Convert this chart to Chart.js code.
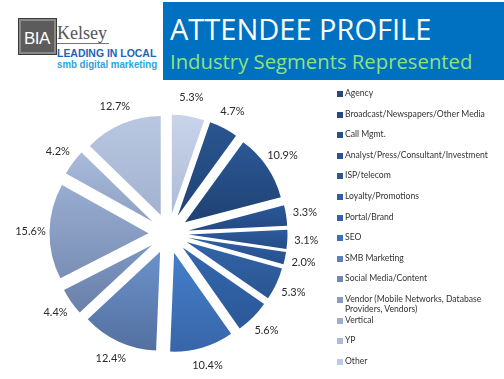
<!DOCTYPE html>
<html>
<head>
<meta charset="utf-8">
<script src="https://cdn.jsdelivr.net/npm/chart.js@4.4.1/dist/chart.umd.min.js"></script>
<style>
    html, body { margin: 0; padding: 0; width: 504px; height: 379px; overflow: hidden; background: #fff; }
    #logoBox { position: absolute; left: 18px; top: 18px; width: 37px; height: 35px; background: #5c5c5c; border: 1px solid #3a3a3a; box-shadow: inset 0 0 0 2px #8a8a8a; }
    #logoBox span { position: absolute; left: 5px; top: 10px; font: 17px "Liberation Sans", Arial, sans-serif; color: #fff; letter-spacing: -0.5px; }
    #kelsey { position: absolute; left: 57px; top: 23px; font: 18px "Liberation Serif", serif; color: #555; border-bottom: 1px solid #777; line-height: 20px; padding-right: 2px; }
    #leading { position: absolute; left: 57px; top: 47px; font: bold 11px "Liberation Sans", Arial, sans-serif; color: #1f63b3; transform: scaleX(0.95); transform-origin: left; white-space: nowrap; }
    #smb { position: absolute; left: 57px; top: 58px; font: bold 11px "Liberation Sans", Arial, sans-serif; color: #29a6e0; transform: scaleX(0.88); transform-origin: left; white-space: nowrap; }
    #banner { position: absolute; left: 163px; top: 2px; width: 341px; height: 78px; background: #0070c0; }
    #banner h1 { position: absolute; left: 7px; top: 7px; margin: 0; font: 29px "Open Sans", sans-serif; color: #fff; white-space: nowrap; }
    #banner h2 { position: absolute; left: 7px; top: 45px; margin: 0; font: 20.3px "Open Sans", sans-serif; font-weight: normal; color: #8fe27e; white-space: nowrap; }
    #chartWrap { position: absolute; left: 0; top: 85px; width: 504px; height: 294px; }
    #legend { position: absolute; left: 337px; top: 88px; margin: 0; padding: 0; list-style: none; }
    #legend li { position: relative; height: 12px; line-height: 12px; margin-bottom: 8.6px; padding-left: 8px; font: 8.6px Lato, sans-serif; color: #333; white-space: nowrap; }
    #legend li i { position: absolute; left: 0; top: 3px; width: 6px; height: 6px; }
</style>
</head>
<body>
<div id="logoBox"><span>BIA</span></div>
<div id="kelsey">Kelsey</div>
<div id="leading">LEADING IN LOCAL</div>
<div id="smb">smb digital marketing</div>
<div id="banner">
    <h1>ATTENDEE PROFILE</h1>
    <h2>Industry Segments Represented</h2>
</div>
<div id="chartWrap"><canvas id="segmentChart"></canvas></div>
<ul id="legend"></ul>
<script>
// Industry segments, in legend order
const categories = [
    'Agency',
    'Broadcast/Newspapers/Other Media',
    'Call Mgmt.',
    'Analyst/Press/Consultant/Investment',
    'ISP/telecom',
    'Loyalty/Promotions',
    'Portal/Brand',
    'SEO',
    'SMB Marketing',
    'Social Media/Content',
    ['Vendor (Mobile Networks, Database', 'Providers, Vendors)'],
    'Vertical',
    'YP',
    'Other'
];

// Share of attendees, percent
const shares = [4.7, 10.9, 3.3, 3.1, 2.0, 5.3, 5.6, 10.4, 12.4, 4.4, 15.6, 4.2, 12.7, 5.3];

// Slice colours (legend swatch, gradient top, gradient bottom)
const swatchColors = ['#24497f', '#244a80', '#26508b', '#285291', '#2b5797', '#2f5ea1', '#3161a6', '#3b72bd', '#5f80b6', '#7189b4', '#899dc3', '#9dafd0', '#aebcd8', '#bccae3'];
const topColors = ['#2a5590', '#2b5896', '#2b5899', '#2d5b9d', '#2f5fa3', '#3364a8', '#3467ae', '#447fca', '#6b92cc', '#7c97c4', '#98acd1', '#a9bbdb', '#b9c7e1', '#c8d4ea'];
const bottomColors = ['#1f4476', '#1f4172', '#234a82', '#244c86', '#284f8c', '#2a5590', '#2b5898', '#3865a9', '#53709f', '#6a80a7', '#7a8fb5', '#8fa1c4', '#a2b2cf', '#aebcd6'];

const explodeDistance = 20;
const labelGap = 19;

document.addEventListener('DOMContentLoaded', function () {
    const total = shares.reduce((a, b) => a + b, 0);
    // "Other" is drawn last and finishes at 12 o'clock
    const startRotation = shares[shares.length - 1] / total * 360;

    // Draws each slice pushed out from the centre, with a top-down gradient
    const explodedSlices = {
        id: 'explodedSlices',
        beforeDatasetDraw(chart, args) {
            const ctx = chart.ctx;
            args.meta.data.forEach((arc, i) => {
                const p = arc.getProps(['x', 'y', 'startAngle', 'endAngle', 'outerRadius'], true);
                const mid = (p.startAngle + p.endAngle) / 2;
                let top = p.y, bottom = p.y;
                for (let k = 0; k <= 24; k++) {
                    const a = p.startAngle + (p.endAngle - p.startAngle) * k / 24;
                    const yy = p.y + Math.sin(a) * p.outerRadius;
                    top = Math.min(top, yy);
                    bottom = Math.max(bottom, yy);
                }
                const grad = ctx.createLinearGradient(0, top, 0, bottom);
                grad.addColorStop(0, topColors[i]);
                grad.addColorStop(1, bottomColors[i]);
                arc.options.backgroundColor = grad;
                ctx.save();
                ctx.translate(Math.cos(mid) * explodeDistance, Math.sin(mid) * explodeDistance);
                arc.draw(ctx);
                ctx.restore();
            });
            return false;
        },
        afterDatasetsDraw(chart) {
            const ctx = chart.ctx;
            const meta = chart.getDatasetMeta(0);
            ctx.save();
            ctx.font = '11px Lato, sans-serif';
            ctx.fillStyle = '#2b2b2b';
            ctx.textAlign = 'center';
            ctx.textBaseline = 'middle';
            meta.data.forEach((arc, i) => {
                const p = arc.getProps(['x', 'y', 'startAngle', 'endAngle', 'outerRadius'], true);
                const mid = (p.startAngle + p.endAngle) / 2;
                const r = p.outerRadius + explodeDistance + labelGap;
                ctx.fillText(shares[i].toFixed(1) + '%', p.x + Math.cos(mid) * r, p.y + Math.sin(mid) * r);
            });
            ctx.restore();
        }
    };

    const chart = new Chart(document.getElementById('segmentChart'), {
        type: 'pie',
        data: {
            labels: categories,
            datasets: [{
                data: shares,
                backgroundColor: swatchColors,
                borderWidth: 0,
                radius: 99
            }]
        },
        options: {
            responsive: true,
            maintainAspectRatio: false,
            animation: false,
            events: [],
            rotation: startRotation,
            layout: { padding: { top: 3, right: 167, bottom: 0, left: 0 } },
            plugins: {
                legend: { display: false },
                tooltip: { enabled: false }
            }
        },
        plugins: [explodedSlices]
    });

    // HTML legend built from the chart's own legend items
    const legendList = document.getElementById('legend');
    const items = chart.options.plugins.legend.labels.generateLabels(chart);
    items.forEach(item => {
        const li = document.createElement('li');
        const box = document.createElement('i');
        box.style.background = item.fillStyle;
        li.appendChild(box);
        const lines = Array.isArray(item.text) ? item.text : [item.text];
        lines.forEach((line, k) => {
            if (k > 0) li.appendChild(document.createElement('br'));
            li.appendChild(document.createTextNode(line));
        });
        legendList.appendChild(li);
    });
});
</script>
</body>
</html>
